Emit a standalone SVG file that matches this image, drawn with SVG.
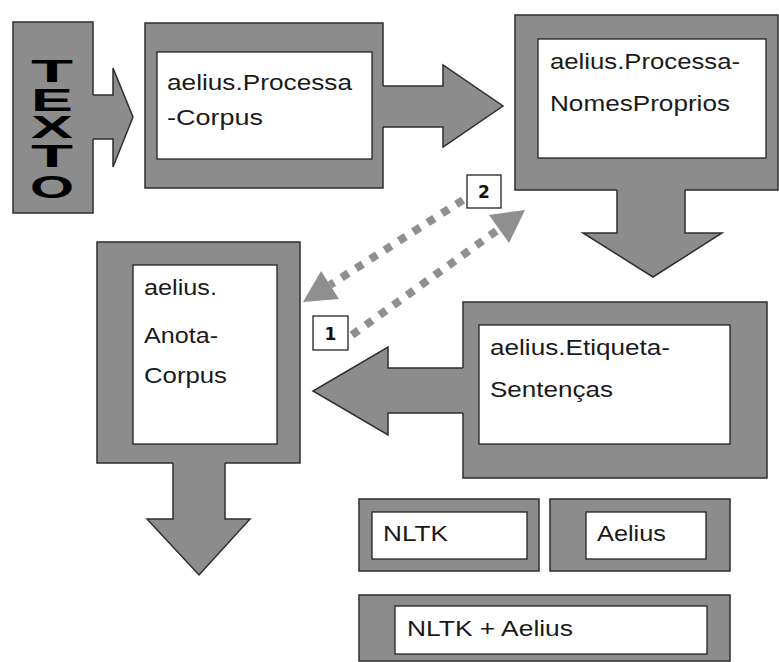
<svg xmlns="http://www.w3.org/2000/svg" width="779" height="662" viewBox="0 0 779 662">
<style>
.frame{fill:#8c8c8c;stroke:#2e2e2e;stroke-width:1.5}
.inner{fill:#ffffff;stroke:#222;stroke-width:1.3}
.lbl{font-family:"Liberation Sans",Arial,sans-serif;font-size:22px;fill:#1a1a1a}
.big{font-family:"Liberation Sans",Arial,sans-serif;font-size:31px;font-weight:bold;fill:#000}
.afill{fill:#8c8c8c;stroke:none}
.aline{fill:none;stroke:#2e2e2e;stroke-width:1.5;stroke-linejoin:miter}
.dots{fill:none;stroke:#8f8f8f;stroke-width:8;stroke-dasharray:8 9}
.dhead{fill:#8f8f8f}
.num{fill:#fff;stroke:#222;stroke-width:1.3}
.numt{font-family:"DejaVu Sans",Verdana,sans-serif;font-size:17px;font-weight:bold;fill:#111;text-anchor:middle}
</style>
<rect width="779" height="662" fill="#ffffff"/>
<g id="texto">
<rect class="frame" x="13" y="22" width="80" height="191"/>
<text class="big"><tspan x="31" y="82" textLength="42" lengthAdjust="spacingAndGlyphs">T</tspan><tspan x="31" y="111" textLength="42" lengthAdjust="spacingAndGlyphs">E</tspan><tspan x="31" y="138" textLength="42" lengthAdjust="spacingAndGlyphs">X</tspan><tspan x="31" y="167" textLength="42" lengthAdjust="spacingAndGlyphs">T</tspan><tspan x="30" y="198" textLength="44" lengthAdjust="spacingAndGlyphs">O</tspan></text>
</g>
<g id="processa-corpus">
<rect class="frame" x="145" y="23" width="238" height="165"/>
<rect class="inner" x="157" y="52" width="215" height="107"/>
<text class="lbl" x="167" y="90" font-size="24" textLength="185" lengthAdjust="spacingAndGlyphs">aelius.Processa</text>
<text class="lbl" x="167" y="125" font-size="24" textLength="96" lengthAdjust="spacingAndGlyphs">-Corpus</text>
</g>
<g id="processa-nomesproprios">
<rect class="frame" x="515" y="15" width="263" height="175"/>
<rect class="inner" x="538" y="39" width="228" height="119"/>
<text class="lbl" x="550" y="69" textLength="190" lengthAdjust="spacingAndGlyphs">aelius.Processa-</text>
<text class="lbl" x="550" y="111" textLength="180" lengthAdjust="spacingAndGlyphs">NomesProprios</text>
</g>
<g id="anota-corpus">
<rect class="frame" x="97" y="242" width="203" height="221"/>
<rect class="inner" x="133" y="265" width="144" height="179"/>
<text class="lbl" x="144" y="295" textLength="73" lengthAdjust="spacingAndGlyphs">aelius.</text>
<text class="lbl" x="144" y="343" textLength="74" lengthAdjust="spacingAndGlyphs">Anota-</text>
<text class="lbl" x="144" y="383" textLength="83" lengthAdjust="spacingAndGlyphs">Corpus</text>
</g>
<g id="etiqueta-sentencas">
<rect class="frame" x="463" y="302" width="304" height="176"/>
<rect class="inner" x="479" y="325" width="251" height="119"/>
<text class="lbl" x="490" y="355" textLength="180" lengthAdjust="spacingAndGlyphs">aelius.Etiqueta-</text>
<text class="lbl" x="490" y="397" textLength="123" lengthAdjust="spacingAndGlyphs">Sentenças</text>
</g>
<g id="nltk">
<rect class="frame" x="359" y="499" width="180" height="72"/>
<rect class="inner" x="372" y="512" width="155" height="47"/>
<text class="lbl" x="383" y="541" textLength="65" lengthAdjust="spacingAndGlyphs">NLTK</text>
</g>
<g id="aelius">
<rect class="frame" x="550" y="499" width="180" height="72"/>
<rect class="inner" x="586" y="512" width="120" height="47"/>
<text class="lbl" x="597" y="541" textLength="69" lengthAdjust="spacingAndGlyphs">Aelius</text>
</g>
<g id="nltk-aelius">
<rect class="frame" x="359" y="595" width="371" height="66"/>
<rect class="inner" x="395" y="606" width="312" height="48"/>
<text class="lbl" x="407" y="636" textLength="166" lengthAdjust="spacingAndGlyphs">NLTK + Aelius</text>
</g>
<g id="connectors">
<polygon class="afill" points="90,95 113,95 113,68 133,117 113,167 113,139 90,139"/>
<polyline class="aline" points="93,95 113,95 113,68 133,117 113,167 113,139 93,139"/>
<polygon class="afill" points="380,86 443,86 443,65 503,106 443,147 443,127 380,127"/>
<polyline class="aline" points="383,86 443,86 443,65 503,106 443,147 443,127 383,127"/>
<polygon class="afill" points="617,187 617,233 583,233 653,277 722,233 685,233 685,187"/>
<polyline class="aline" points="617,190 617,233 583,233 653,277 722,233 685,233 685,190"/>
<polygon class="afill" points="466,368 388,368 388,347 313,391 388,435 388,413 466,413"/>
<polyline class="aline" points="463,368 388,368 388,347 313,391 388,435 388,413 463,413"/>
<polygon class="afill" points="173,460 173,519 147,519 199,575 250,519 225,519 225,460"/>
<polyline class="aline" points="173,463 173,519 147,519 199,575 250,519 225,519 225,463"/>
<line class="dots" x1="463" y1="200" x2="330" y2="285"/>
<polygon class="dhead" points="303,302 321,271 339,299"/>
<line class="dots" x1="352" y1="335" x2="499" y2="229"/>
<polygon class="dhead" points="525,210 489,215 509,243"/>
</g>
<g id="label-2">
<rect class="num" x="467" y="175" width="34" height="33"/>
<text class="numt" x="484" y="198">2</text>
</g>
<g id="label-1">
<rect class="num" x="313" y="316" width="35" height="34"/>
<text class="numt" x="330.5" y="340">1</text>
</g>
</svg>
